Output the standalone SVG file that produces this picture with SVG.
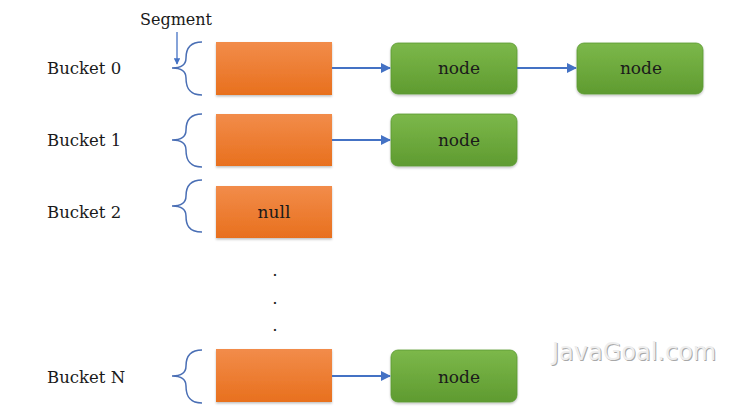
<svg xmlns="http://www.w3.org/2000/svg" width="750" height="420" viewBox="0 0 750 420">
<defs>
<linearGradient id="og" x1="0" y1="0" x2="0" y2="1"><stop offset="0" stop-color="#f28c4a"/><stop offset="1" stop-color="#e8701e"/></linearGradient>
<linearGradient id="gg" x1="0" y1="0" x2="0" y2="1"><stop offset="0" stop-color="#7cb84a"/><stop offset="1" stop-color="#5f9b30"/></linearGradient>
<marker id="ah" viewBox="0 0 10 10" refX="9" refY="5" markerWidth="5" markerHeight="5" orient="auto"><path d="M0,0 L10,5 L0,10 z" fill="#4472c4"/></marker>
<filter id="sh" x="-10%" y="-10%" width="120%" height="130%"><feDropShadow dx="0" dy="1.5" stdDeviation="1.2" flood-color="#000" flood-opacity="0.25"/></filter>
</defs>
<style>
.lbl{font-family:"DejaVu Serif","Liberation Serif",serif;font-size:16.5px;fill:#1a1a1a}
.txt{font-family:"DejaVu Serif","Liberation Serif",serif;font-size:17px;fill:#1a1a1a;text-anchor:middle}
.seg{fill:url(#og);filter:url(#sh)}
.nd{fill:url(#gg);stroke:#5a9a32;stroke-width:0.8;filter:url(#sh)}
.br{fill:none;stroke:#4a6fb5;stroke-width:1.5}
.con{stroke:#4472c4;stroke-width:2;fill:none;marker-end:url(#ah)}
.dot{font-family:"DejaVu Serif",serif;font-size:17px;fill:#1a1a1a;text-anchor:middle}
</style>
<rect width="750" height="420" fill="#fff"/>
<g id="labels">
<text class="lbl" x="47" y="74">Bucket 0</text>
<text class="lbl" x="47" y="146">Bucket 1</text>
<text class="lbl" x="47" y="218">Bucket 2</text>
<text class="lbl" x="47" y="383">Bucket N</text>
<text class="lbl" x="140" y="25" style="font-size:16px">Segment</text>
</g>
<g id="braces">
<path class="br" d="M202,42 C188,42 186,52 186,58 C186,64 182,68 172,68 C182,68 186,72 186,78 C186,86 188,95 202,95"/>
<path class="br" d="M202,114 C188,114 186,124 186,130 C186,136 182,140 172,140 C182,140 186,144 186,150 C186,158 188,167 202,167"/>
<path class="br" d="M202,180 C188,180 186,190 186,196 C186,202 182,206 172,206 C182,206 186,210 186,216 C186,224 188,232 202,232"/>
<path class="br" d="M202,350 C188,350 186,360 186,366 C186,372 182,376 172,376 C182,376 186,380 186,386 C186,394 188,403 202,403"/>
</g>
<g id="bucket0"><rect class="seg" x="216" y="42" width="116" height="53"/></g>
<g id="bucket1"><rect class="seg" x="216" y="114" width="116" height="52"/></g>
<g id="bucket2"><rect class="seg" x="216" y="186" width="116" height="52"/><text class="txt" x="274" y="218">null</text></g>
<g id="bucketN"><rect class="seg" x="216" y="349" width="116" height="53"/></g>
<g id="node0a"><rect class="nd" x="391" y="43" width="126" height="51" rx="7"/><text class="txt" x="459" y="74">node</text></g>
<g id="node0b"><rect class="nd" x="577" y="43" width="126" height="51" rx="7"/><text class="txt" x="641" y="74">node</text></g>
<g id="node1"><rect class="nd" x="391" y="114" width="126" height="52" rx="7"/><text class="txt" x="459" y="146">node</text></g>
<g id="nodeN"><rect class="nd" x="391" y="350" width="126" height="52" rx="7"/><text class="txt" x="459" y="383">node</text></g>
<g id="connectors">
<line class="con" x1="332" y1="68" x2="390" y2="68"/>
<line class="con" x1="517" y1="68" x2="576" y2="68"/>
<line class="con" x1="332" y1="140" x2="390" y2="140"/>
<line class="con" x1="332" y1="376" x2="390" y2="376"/>
<line class="con" x1="177" y1="32" x2="177" y2="64" style="stroke-width:1.3"/>
</g>
<g id="dots">
<text class="dot" x="275" y="276">.</text>
<text class="dot" x="275" y="304">.</text>
<text class="dot" x="275" y="331">.</text>
</g>
<g id="watermark">
<text x="553" y="361" font-family="'DejaVu Sans','Liberation Sans',sans-serif" font-size="24" fill="#a8a8a8">JavaGoal.com</text>
<text x="552" y="360" font-family="'DejaVu Sans','Liberation Sans',sans-serif" font-size="24" fill="#eeeeee">JavaGoal.com</text>
</g>
</svg>
